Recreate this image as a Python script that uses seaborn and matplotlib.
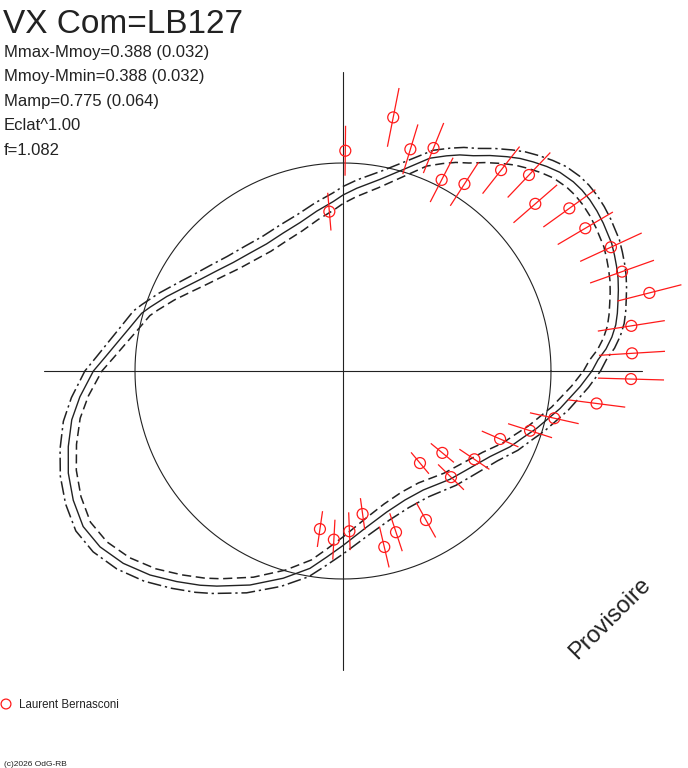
import numpy as np
import pandas as pd
import seaborn as sns
import matplotlib.pyplot as plt
from matplotlib.collections import LineCollection

# mean curve: angle (deg, ccw from +x) and radius (circle = 1)
curve_deg = [0, 2.5, 4.8, 7.2, 9.6, 11.9, 14.1, 16.4, 18.7, 20.9,
             23.1, 25.4, 29.6, 32.2, 34.7, 37.1, 39.4, 42.5, 45.1, 47.7,
             50.2, 52.6, 55.7, 58.8, 61.6, 64.3, 67.8, 72.6, 79.1, 85.7,
             90, 93.3, 99.3, 106.1, 113.4, 121.0, 128.2, 135.3, 141.6, 147.4,
             152.5, 157.1, 161.7, 164.0, 168.7, 173.0, 176.7, 180, 185.6, 190.2,
             195.4, 200.4, 205.6, 210.9, 215.9, 221.2, 226.6, 231.7, 236.3, 239.6,
             246.5, 253.9, 260.5, 265.0, 270, 278.6, 287.2, 295.7, 304.0, 314.7,
             322.6, 329.8, 335.6, 339.8, 343.5, 350.2, 356.2]
curve_r = [1.197, 1.227, 1.269, 1.303, 1.330, 1.348, 1.363, 1.380, 1.396, 1.408,
           1.419, 1.430, 1.439, 1.443, 1.444, 1.441, 1.433, 1.414, 1.388, 1.359,
           1.330, 1.297, 1.254, 1.210, 1.181, 1.148, 1.105, 1.022, 0.938, 0.881,
           0.846, 0.816, 0.779, 0.743, 0.723, 0.713, 0.722, 0.742, 0.775, 0.816,
           0.865, 0.920, 0.977, 1.007, 1.048, 1.096, 1.146, 1.200, 1.271, 1.325,
           1.370, 1.409, 1.438, 1.456, 1.442, 1.404, 1.350, 1.290, 1.238, 1.199,
           1.122, 1.037, 0.962, 0.898, 0.839, 0.759, 0.710, 0.688, 0.690, 0.732,
           0.768, 0.818, 0.882, 0.924, 0.971, 1.059, 1.142]
band = 0.041  # offset of the dashed envelopes

# observations: angle, radius, error half-length
obs_deg = [78.8, 89.4, 73.1, 67.9, 94.9, 62.7, 57.0, 51.8, 46.5, 41.0, 35.7, 30.5,
           24.8, 19.6, 14.3, 8.9, 3.5, 358.4, 352.7, 347.4, 342.3, 336.6, 326.1,
           320.5, 309.9, 315.5, 277.8, 261.7, 266.9, 272.3, 288.2, 299.1, 283.2]
obs_r = [1.243, 1.059, 1.114, 1.157, 0.769, 1.034, 1.072, 1.229, 1.299, 1.225,
         1.340, 1.352, 1.419, 1.424, 1.520, 1.403, 1.392, 1.385, 1.229, 1.041,
         0.944, 0.823, 0.761, 0.619, 0.577, 0.728, 0.694, 0.768, 0.812, 0.771,
         0.816, 0.820, 0.869]
obs_err = [0.144, 0.120, 0.125, 0.130, 0.091, 0.120, 0.125, 0.144, 0.149, 0.139,
           0.154, 0.154, 0.163, 0.163, 0.159, 0.163, 0.159, 0.159, 0.139, 0.120,
           0.111, 0.096, 0.087, 0.072, 0.067, 0.087, 0.077, 0.087, 0.096, 0.091,
           0.096, 0.096, 0.101]

title = "VX Com=LB127"
info = ["Mmax-Mmoy=0.388 (0.032)", "Mmoy-Mmin=0.388 (0.032)",
        "Mamp=0.775 (0.064)", "Eclat^1.00", "f=1.082"]
observer = "Laurent Bernasconi"
credit = "(c)2026 OdG-RB"

ink = "#222222"
red = "#ff1a1a"
W, H = 688, 768
cx, cy, scale = 343, 371, 208.0

sns.set_style("white")
plt.rcParams['font.family'] = ['Liberation Sans', 'DejaVu Sans']

fig = plt.figure(figsize=(W / 100, H / 100), dpi=100)
ax = fig.add_axes([0, 0, 1, 1])
ax.set_xlim(-cx / scale, (W - cx) / scale)
ax.set_ylim(-(H - cy) / scale, cy / scale)
ax.axis('off')


def polar_df(deg, r, close=False):
    deg = np.asarray(deg, float)
    r = np.asarray(r, float)
    if close:
        deg = np.append(deg, deg[0])
        r = np.append(r, r[0])
    t = np.deg2rad(deg)
    return pd.DataFrame({'x': r * np.cos(t), 'y': r * np.sin(t)})


# axes cross and reference circle
L = 1.437
ax.plot([-L, L], [0, 0], color=ink, lw=0.8)
ax.plot([0, 0], [-L, L], color=ink, lw=0.8)
circ = polar_df(np.arange(0, 361, 2), np.ones(181))
sns.lineplot(data=circ, x='x', y='y', sort=False, estimator=None, ax=ax,
             color=ink, lw=0.8)

# fitted curve and its envelopes
cr = np.array(curve_r)
sns.lineplot(data=polar_df(curve_deg, cr, True), x='x', y='y', sort=False,
             estimator=None, ax=ax, color=ink, lw=1.0)
sns.lineplot(data=polar_df(curve_deg, cr + band, True), x='x', y='y', sort=False,
             estimator=None, ax=ax, color=ink, lw=1.1,
             linestyle=(0, (9, 2.5, 1.5, 2.5)))
sns.lineplot(data=polar_df(curve_deg, cr - band, True), x='x', y='y', sort=False,
             estimator=None, ax=ax, color=ink, lw=1.1, linestyle=(0, (6, 3)))

# observations with radial error bars
t = np.deg2rad(obs_deg)
orr = np.array(obs_r)
oe = np.array(obs_err)
segs = [[((r - e) * np.cos(a), (r - e) * np.sin(a)),
         ((r + e) * np.cos(a), (r + e) * np.sin(a))] for a, r, e in zip(t, orr, oe)]
ax.add_collection(LineCollection(segs, colors=red, linewidths=0.9))
pts = polar_df(obs_deg, obs_r)
sns.scatterplot(data=pts, x='x', y='y', ax=ax, marker='o', s=62,
                facecolors='none', edgecolor=red, linewidth=0.9, zorder=5)

# texts
fig.text(3 / W, 1 - 33 / H, title, fontsize=24, color=ink, va='baseline')
for i, line in enumerate(info):
    fig.text(4 / W, 1 - (57 + 24.5 * i) / H, line, fontsize=12, color=ink,
             va='baseline')
fig.text(610 / W, 1 - 619 / H, "Provisoire", fontsize=17, color=ink,
         rotation=45, ha='center', va='center')
ax.scatter([(6 - cx) / scale], [(cy - 704) / scale], s=50, facecolors='none',
           edgecolors=red, linewidths=0.9, clip_on=False)
fig.text(19 / W, 1 - 708 / H, observer, fontsize=8.3, color=ink, va='baseline')
fig.text(4 / W, 1 - 766 / H, credit, fontsize=6, color=ink, va='baseline')

fig.savefig("out.png", dpi=100)
